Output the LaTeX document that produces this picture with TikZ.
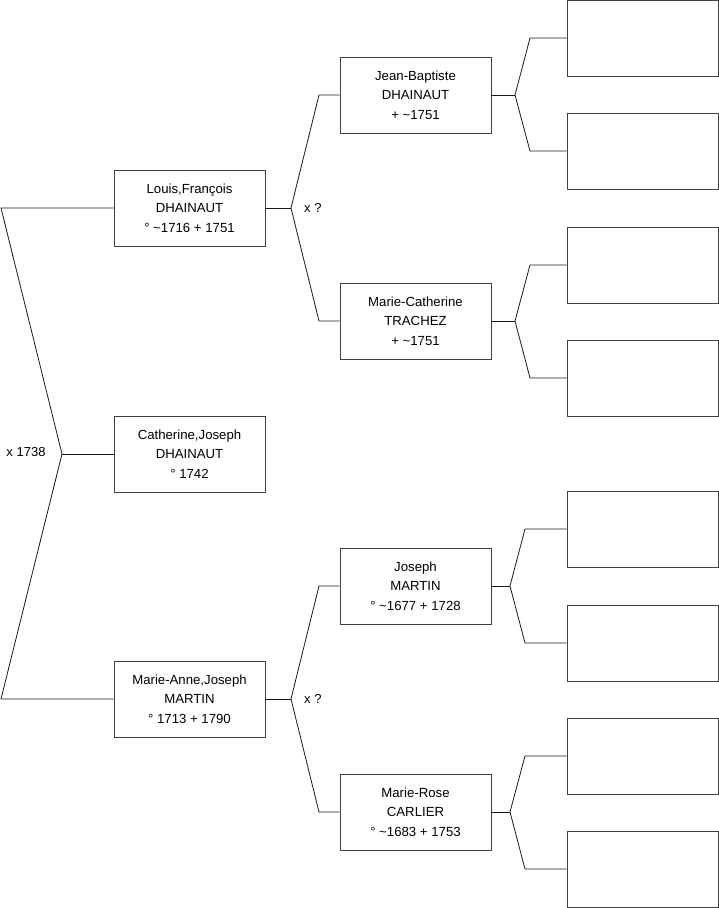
\documentclass[tikz,border=0pt]{standalone}
\usepackage{fontspec}
\setmainfont{Liberation Sans}
\begin{document}
\begin{tikzpicture}[x=1pt,y=-1pt,
  person/.style={draw=black!75, line width=0.9pt, fill=white, minimum width=151pt, minimum height=76pt, inner sep=0pt, align=center, font=\fontsize{13.2}{19.5}\selectfont},
  link/.style={draw=black!90, line width=0.8pt},
  lbl/.style={font=\fontsize{13}{15}\selectfont, inner sep=0pt}]
\useasboundingbox (0,0) rectangle (719,908);
% generation 1
\node[person] (L) at (189.5,208) {Louis,François\\DHAINAUT\\° \textasciitilde1716 + 1751};
\node[person] (C) at (189.5,454) {Catherine,Joseph\\DHAINAUT\\° 1742};
\node[person] (M) at (189.5,699) {Marie-Anne,Joseph\\MARTIN\\° 1713 + 1790};
% generation 2
\node[person] (JB) at (415.5,95) {Jean-Baptiste\\DHAINAUT\\+ \textasciitilde1751};
\node[person] (MC) at (415.5,321) {Marie-Catherine\\TRACHEZ\\+ \textasciitilde1751};
\node[person] (J) at (415.5,586) {Joseph\\MARTIN\\° \textasciitilde1677 + 1728};
\node[person] (MR) at (415.5,812) {Marie-Rose\\CARLIER\\° \textasciitilde1683 + 1753};
% generation 3 (empty)
\node[person] (R1) at (642.5,38) {};
\node[person] (R2) at (642.5,151) {};
\node[person] (R3) at (642.5,265) {};
\node[person] (R4) at (642.5,378) {};
\node[person] (R5) at (642.5,529) {};
\node[person] (R6) at (642.5,643) {};
\node[person] (R7) at (642.5,756) {};
\node[person] (R8) at (642.5,869) {};
% couple L + M
\coordinate (a0) at (1,208);
\coordinate (a1) at (62,454);
\coordinate (a2) at (1,699);
\draw[link] (L.west) -- (a0) -- (a1) -- (a2) -- (M.west);
\draw[link] (a1) -- (C.west);
\node[lbl] (x1) at (26,452) {x 1738};
% parents of L
\coordinate (b0) at (291,208);
\coordinate (b1) at (319,95);
\coordinate (b2) at (319,321);
\draw[link] (L.east) -- (b0);
\draw[link] (JB.west) -- (b1) -- (b0) -- (b2) -- (MC.west);
\node[lbl, anchor=west] (x2) at (304,208) {x ?};
% parents of M
\coordinate (c0) at (291,699);
\coordinate (c1) at (319,586);
\coordinate (c2) at (319,812);
\draw[link] (M.east) -- (c0);
\draw[link] (J.west) -- (c1) -- (c0) -- (c2) -- (MR.west);
\node[lbl, anchor=west] (x3) at (304,699) {x ?};
% parents of JB
\coordinate (d0) at (515,95);
\coordinate (d1) at (530,38);
\coordinate (d2) at (530,151);
\draw[link] (JB.east) -- (d0);
\draw[link] (R1.west) -- (d1) -- (d0) -- (d2) -- (R2.west);
% parents of MC
\coordinate (e0) at (515,321);
\coordinate (e1) at (530,265);
\coordinate (e2) at (530,378);
\draw[link] (MC.east) -- (e0);
\draw[link] (R3.west) -- (e1) -- (e0) -- (e2) -- (R4.west);
% parents of J
\coordinate (f0) at (510,586);
\coordinate (f1) at (525,529);
\coordinate (f2) at (525,643);
\draw[link] (J.east) -- (f0);
\draw[link] (R5.west) -- (f1) -- (f0) -- (f2) -- (R6.west);
% parents of MR
\coordinate (g0) at (510,812);
\coordinate (g1) at (525,756);
\coordinate (g2) at (525,869);
\draw[link] (MR.east) -- (g0);
\draw[link] (R7.west) -- (g1) -- (g0) -- (g2) -- (R8.west);
\end{tikzpicture}
\end{document}
